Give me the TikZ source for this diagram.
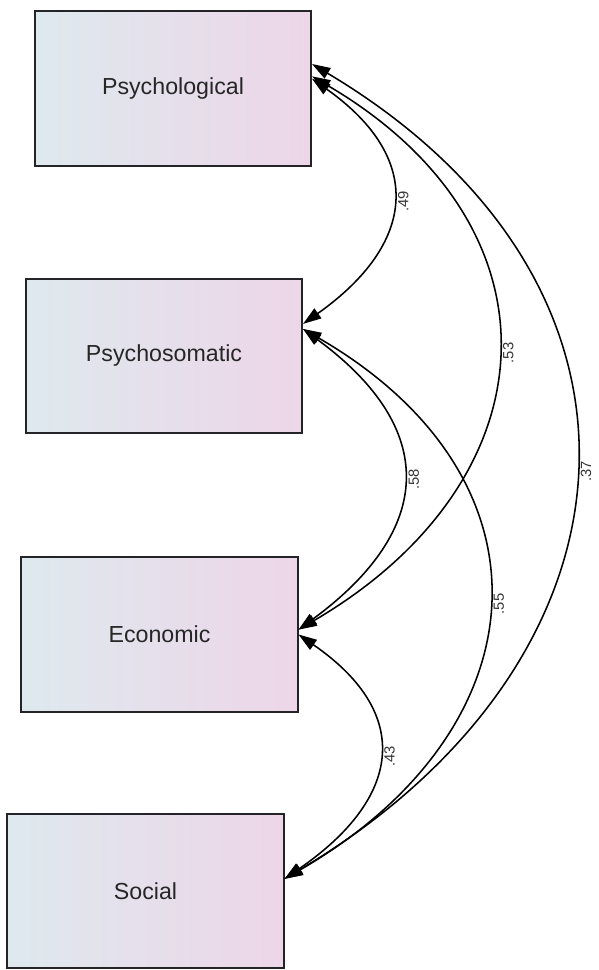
\documentclass[tikz,border=0pt]{standalone}
\usepackage{fontspec}
\setmainfont{Liberation Sans}
\usepackage{tikz}
\usetikzlibrary{arrows.meta}

\definecolor{boxleft}{RGB}{222,233,238}
\definecolor{boxright}{RGB}{237,214,232}
\definecolor{boxline}{RGB}{35,35,40}

\begin{document}
\begin{tikzpicture}[x=0.025cm, y=-0.025cm,
    factor/.style = {draw=boxline, line width=1.4pt, left color=boxleft, right color=boxright,
        minimum width=6.9cm, minimum height=3.85cm, font=\fontsize{16.5}{20}\selectfont, text=black!85},
    cov/.style = {line width=1.1pt, {Triangle[length=13pt,width=8.5pt]}-{Triangle[length=13pt,width=8.5pt]}},
    coef/.style = {midway, rotate=90, anchor=north, inner sep=3.5pt,
        font=\fontsize{10.5}{12}\selectfont, text=black!80}]
    % fix page size
    \useasboundingbox (0,0) rectangle (598,970);

    % draw factor boxes
    \node[factor] (psyc) at (173,88.5) {Psychological};
    \node[factor] (psom) at (164,356) {Psychosomatic};
    \node[factor] (econ) at (159.5,634.5) {Economic};
    \node[factor] (soc) at (145.5,891) {Social};

    % draw covariance arcs
    \foreach \a/\b/\d/\h/\val in {psyc.4/psom.13/113/80/.49,
                                 psyc.5/econ.2/256/150/.53,
                                 psyc.10/soc.5/369/220/.37,
                                 psom.11/econ.2/136/100/.58,
                                 psom.11/soc.5/259/150/.55,
                                 econ.0/soc.5/116/80/.43}
        \draw[cov] (\a) .. controls +(\d,\h) and +(\d,-\h) .. (\b) node[coef] {\val};

\end{tikzpicture}
\end{document}
